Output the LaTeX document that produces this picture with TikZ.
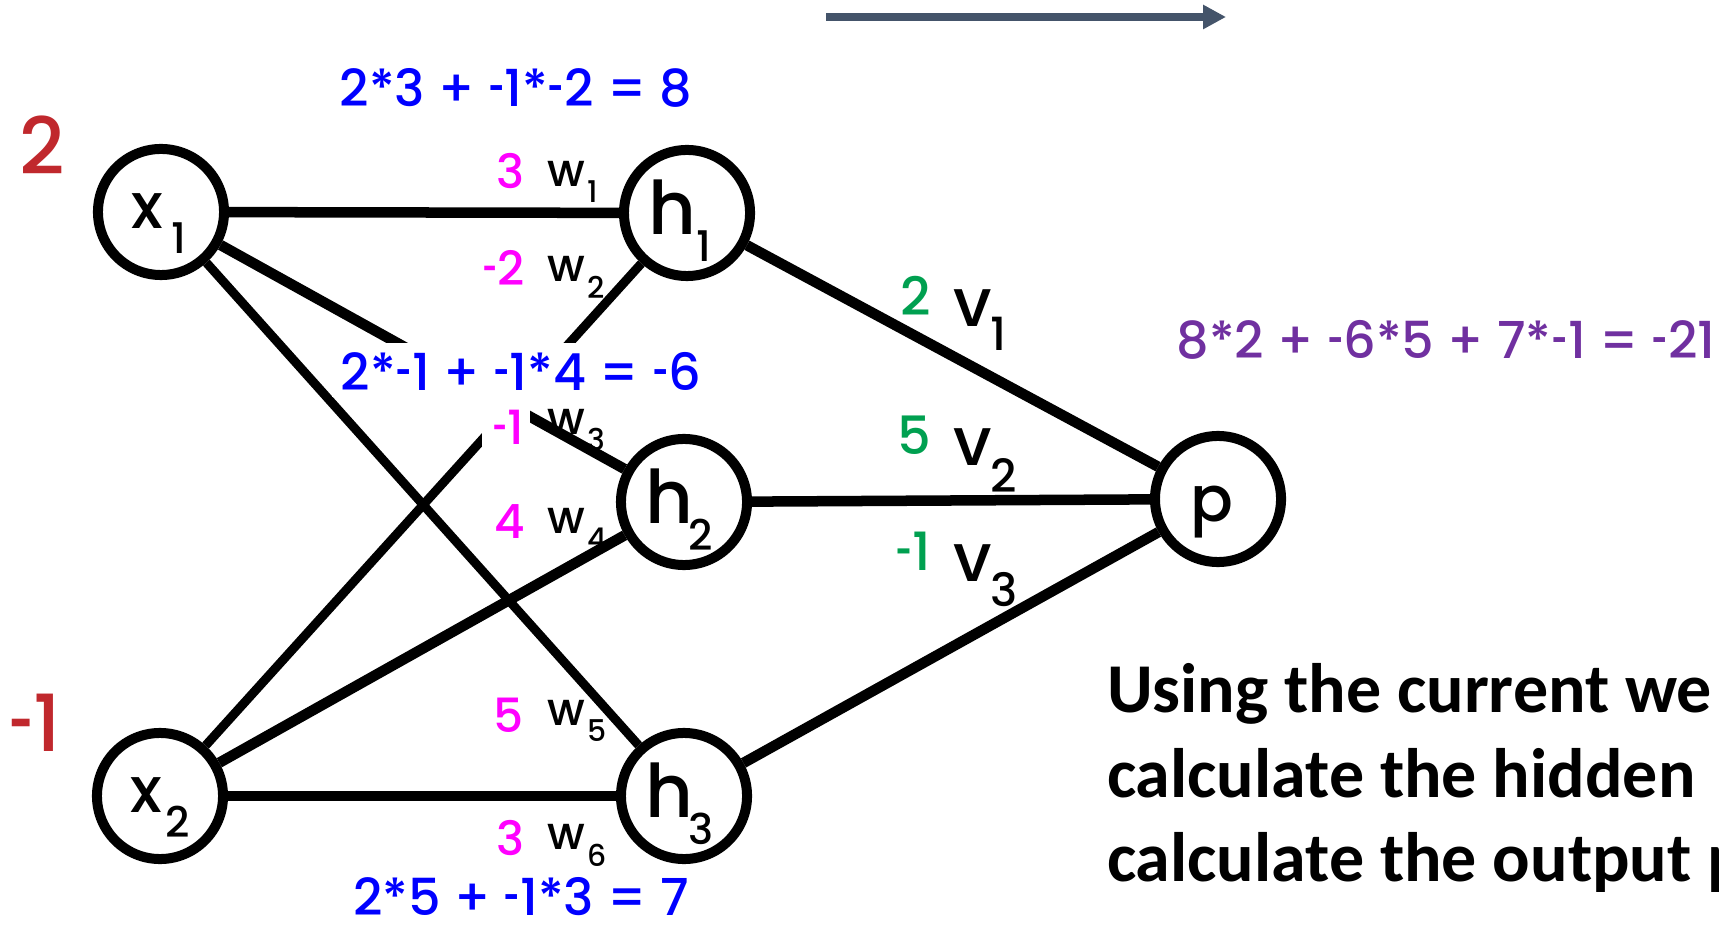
\documentclass[tikz,border=0pt]{standalone}
\usepackage{graphicx}
\usepackage{fontspec}
\setmainfont{Poppins}
\newfontfamily\popmed{Poppins Medium}
\newfontfamily\calib{Carlito}
\usetikzlibrary{arrows.meta,calc}
\definecolor{wblue}{RGB}{0,0,255}
\definecolor{wmag}{RGB}{255,0,255}
\definecolor{wgreen}{RGB}{0,160,80}
\definecolor{wred}{RGB}{192,40,45}
\definecolor{wpurp}{RGB}{112,48,160}
\definecolor{slate}{RGB}{68,84,106}
\newcommand{\hy}{\scalebox{0.55}[1]{-}}
\begin{document}
\begin{tikzpicture}[x=0.01cm,y=-0.01cm,
 neuron/.style={circle,draw,line width=0.1cm,minimum size=1.26cm,inner sep=0pt,fill=white},
 conn/.style={line width=0.105cm},
 connthin/.style={line width=0.09cm},
 lab/.style={inner sep=0pt,outer sep=0pt},
 nlet/.style={lab,font=\popmed\fontsize{18}{20}\selectfont},
 hlet/.style={lab,font=\popmed\fontsize{21}{24}\selectfont},
 nsub/.style={lab,font=\popmed\fontsize{12}{14}\selectfont},
 wval/.style={lab,anchor=east,text=wmag,font=\popmed\fontsize{13.4}{15}\selectfont},
 wlet/.style={lab,anchor=west,font=\popmed\fontsize{13}{15}\selectfont},
 wsub/.style={lab,anchor=west,font=\popmed\fontsize{8.5}{10}\selectfont},
 vval/.style={lab,anchor=east,text=wgreen,font=\popmed\fontsize{15}{17}\selectfont},
 vlet/.style={lab,anchor=west,font=\popmed\fontsize{19}{21}\selectfont},
 vsub/.style={lab,anchor=west,font=\popmed\fontsize{13}{15}\selectfont},
 formula/.style={lab,font=\popmed\fontsize{14.5}{17}\selectfont},
 inval/.style={lab,text=wred,font=\popmed\fontsize{22.4}{25}\selectfont},
 note/.style={lab,anchor=base west,font=\calib\bfseries\fontsize{19.9}{24}\selectfont},
 cover/.style={fill=white,inner sep=0pt,outer sep=0pt}
]
\useasboundingbox (0,0) rectangle (1719,931);
\clip (0,0) rectangle (1719,931);

% neurons
\node[neuron] (x1) at (161,212) {};
\node[neuron] (x2) at (160,796) {};
\node[neuron] (h1) at (687,213) {};
\node[neuron] (h2) at (684,502) {};
\node[neuron] (h3) at (684,796) {};
\node[neuron] (p)  at (1218,499) {};

% connections
\draw[conn] (x1) -- (h1);
\draw[conn] (x1) -- (h2);
\draw[connthin] (x1) -- (h3);
\draw[connthin] (x2) -- (h1);
\draw[conn] (x2) -- (h2);
\draw[conn] (x2) -- (h3);
\draw[conn] (h1) -- (p);
\draw[conn] (h2) -- (p);
\draw[conn] (h3) -- (p);

% neuron labels
\node[nlet] (x1l) at ($(x1)+(-14,-1)$) {x};
\node[nsub] (x1s) at ($(x1)+(18,26)$) {1};
\node[nlet] (x2l) at ($(x2)+(-14,-1)$) {x};
\node[nsub] (x2s) at ($(x2)+(18,26)$) {2};
\node[hlet] (h1l) at ($(h1)+(-15,-6)$) {h};
\node[nsub] (h1s) at ($(h1)+(17,33)$) {1};
\node[hlet] (h2l) at ($(h2)+(-15,-6)$) {h};
\node[nsub] (h2s) at ($(h2)+(17,33)$) {2};
\node[hlet] (h3l) at ($(h3)+(-15,-6)$) {h};
\node[nsub] (h3s) at ($(h3)+(17,33)$) {3};
\node[nlet] (pl) at ($(p)+(-6,13)$) {p};

% inputs
\node[inval] (in1) at (42,145) {2};
\node[inval] (in2) at (35,723) {\hy1};

% cover boxes
\node[cover,minimum width=3.87cm,minimum height=0.53cm] (box6) at (526,370) {};
\node[cover,minimum width=0.47cm,minimum height=0.58cm] (box3) at (506,425) {};

% formulas
\node[formula,text=wblue] (f1) at (516,88) {2*3 + \hy1*\hy2 = 8};
\node[formula,text=wblue] (f2) at (521,371) {2*\hy1 + \hy1*4 = \hy6};
\node[formula,text=wblue] (f3) at (521,897) {2*5 + \hy1*3 = 7};
\node[formula,text=wpurp] (f4) at (1446,340) {8*2 + \hy6*5 + 7*\hy1 = \hy21};

% weights w
\node[wval] (w1v) at (524,171) {3};
\node[wlet] (w1l) at (547,174) {w};
\node[wsub] (w1s) at (587,192) {1};
\node[wval] (w2v) at (525,268) {\hy2};
\node[wlet] (w2l) at (547,269) {w};
\node[wsub] (w2s) at (587,287) {2};
\node[wval] (w3v) at (524,427) {\hy1};
\node[wlet] (w3l) at (547,422) {w};
\node[wsub] (w3s) at (587,439) {3};
\node[wval] (w4v) at (525,522) {4};
\node[wlet] (w4l) at (547,521) {w};
\node[wsub] (w4s) at (587,539) {4};
\node[wval] (w5v) at (524,715) {5};
\node[wlet] (w5l) at (547,713) {w};
\node[wsub] (w5s) at (587,731) {5};
\node[wval] (w6v) at (524,838) {3};
\node[wlet] (w6l) at (547,837) {w};
\node[wsub] (w6s) at (587,855) {6};

% weights v
\node[vval] (v1v) at (931,296) {2};
\node[vlet] (v1l) at (953,308) {v};
\node[vsub] (v1s) at (990,334) {1};
\node[vval] (v2v) at (931,435) {5};
\node[vlet] (v2l) at (953,447) {v};
\node[vsub] (v2s) at (990,475) {2};
\node[vval] (v3v) at (931,551) {\hy1};
\node[vlet] (v3l) at (953,563) {v};
\node[vsub] (v3s) at (990,590) {3};

% arrow
\coordinate (a0) at (826,17);
\coordinate (a1) at (1226,17);
\draw[slate,line width=0.08cm,-{Triangle[length=0.23cm,width=0.23cm]}] (a0) -- (a1);

% note
\node[note] (t1) at (1107,712) {Using the current we};
\node[note] (t2) at (1107,797) {calculate the hidden};
\node[note] (t3) at (1107,881) {calculate the output p};
\end{tikzpicture}
\end{document}
